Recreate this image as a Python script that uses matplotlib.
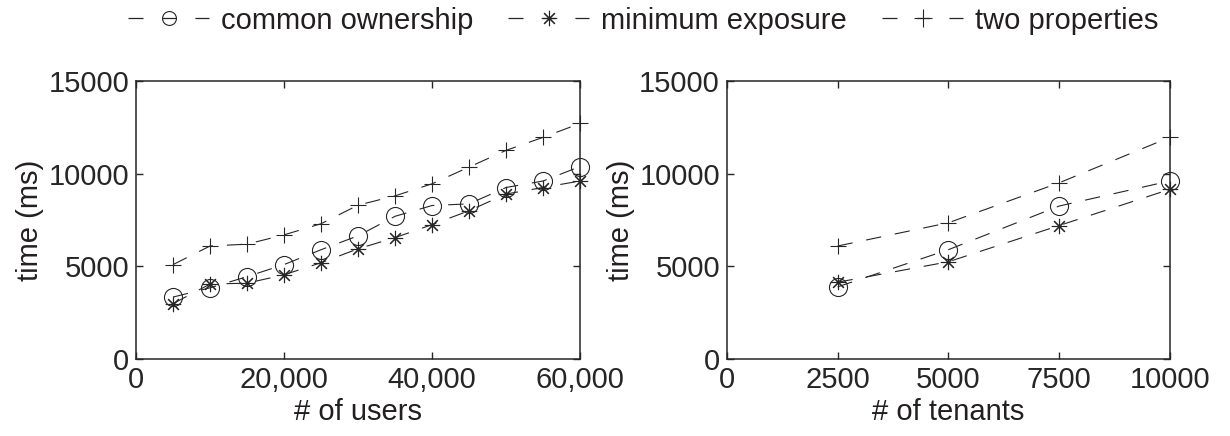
import matplotlib
matplotlib.use("Agg")
import matplotlib.pyplot as plt
from matplotlib.lines import Line2D
from matplotlib.ticker import FuncFormatter

# Data
users = [5000, 10000, 15000, 20000, 25000, 30000, 35000, 40000, 45000, 50000, 55000, 60000]
users_common = [3350, 3850, 4450, 5100, 5900, 6650, 7700, 8280, 8370, 9250, 9600, 10380]
users_minexp = [3000, 4050, 4100, 4550, 5200, 5950, 6550, 7250, 8000, 8900, 9250, 9600]
users_two = [5100, 6100, 6200, 6700, 7300, 8300, 8800, 9450, 10350, 11250, 11950, 12700]

tenants = [2500, 5000, 7500, 10000]
tenants_common = [3900, 5900, 8250, 9600]
tenants_minexp = [4150, 5250, 7200, 9150]
tenants_two = [6100, 7350, 9500, 11950]

labels = ["common ownership", "minimum exposure", "two properties"]

INK = "#262626"
plt.rcParams["font.family"] = ["Liberation Sans", "DejaVu Sans"]
plt.rcParams["font.size"] = 21
plt.rcParams["text.color"] = "#231f20"
plt.rcParams["axes.labelcolor"] = "#231f20"
plt.rcParams["xtick.color"] = INK
plt.rcParams["ytick.color"] = INK
plt.rcParams["lines.scale_dashes"] = False

DASH = (0, (11, 10))
styles = [
    dict(marker="o", ms=13, mfc="none"),
    dict(marker=(8, 2, 0), ms=11),
    dict(marker="+", ms=12),
]

fig = plt.figure(figsize=(12.3, 4.36), dpi=100)
ax1 = fig.add_axes([0.1106, 0.1759, 0.361, 0.639])
ax2 = fig.add_axes([0.591, 0.1759, 0.360, 0.639])


def draw(ax, x, series):
    for ys, st in zip(series, styles):
        ax.plot(x, ys, color=INK, lw=0.8, linestyle=DASH, mec=INK, mew=0.8,
                clip_on=False, **st)


draw(ax1, users, [users_common, users_minexp, users_two])
draw(ax2, tenants, [tenants_common, tenants_minexp, tenants_two])

ax1.set_xlim(0, 60000)
ax1.set_xticks([0, 20000, 40000, 60000])
ax1.xaxis.set_major_formatter(FuncFormatter(lambda v, p: "{:,.0f}".format(v)))
ax1.set_xlabel("# of users", labelpad=3)

ax2.set_xlim(0, 10000)
ax2.set_xticks([0, 2500, 5000, 7500, 10000])
ax2.set_xlabel("# of tenants", labelpad=3)

for ax in (ax1, ax2):
    ax.set_ylim(0, 15000)
    ax.set_yticks([0, 5000, 10000, 15000])
    ax.set_ylabel("time (ms)", labelpad=3)
    ax.tick_params(direction="in", length=5, width=1, top=True, right=True, pad=5)
    for s in ax.spines.values():
        s.set_linewidth(1.1)
        s.set_color(INK)

# legend proxies: dash - marker - dash
leg_dash = (0, (10.8, 14, 9.4, 14, 10.8, 100))
leg_ms = [10, 11, 12.5]
handles = []
for st, ms in zip(styles, leg_ms):
    kw = dict(st)
    kw["ms"] = ms
    handles.append(Line2D([], [], color=INK, lw=0.9, linestyle=leg_dash, mec=INK, mew=0.8, **kw))

fig.legend(handles, labels, loc="upper center", bbox_to_anchor=(0.523, 1.045), ncol=3,
           frameon=False, handlelength=2.78, handletextpad=0.41, columnspacing=1.2,
           fontsize=21)

fig.savefig("out.png", dpi=100)
